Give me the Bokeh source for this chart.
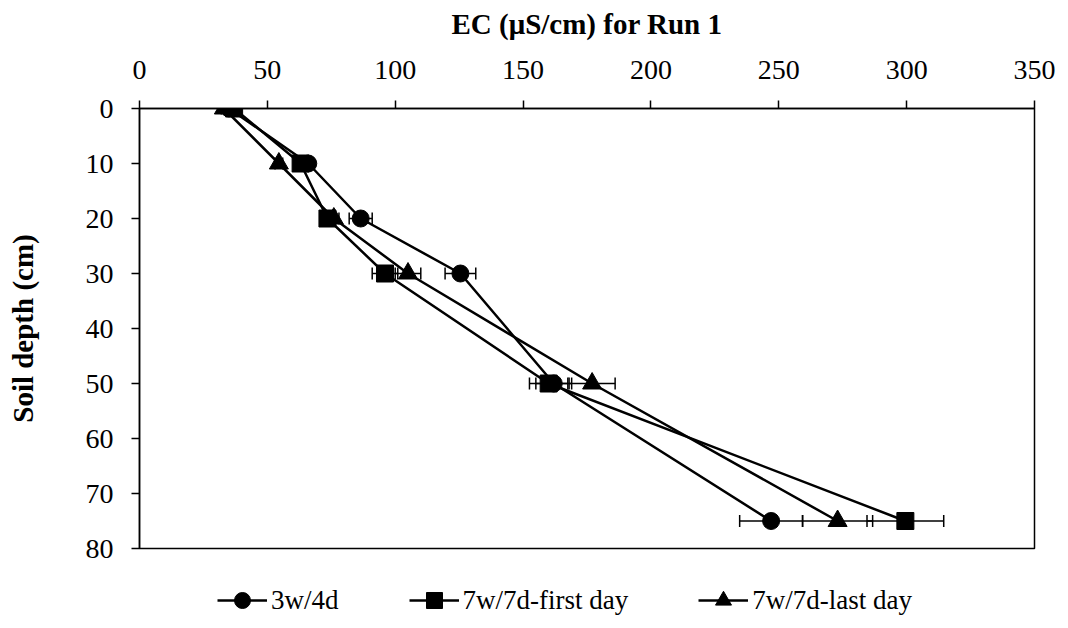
from bokeh.plotting import figure
from bokeh.layouts import column
from bokeh.models import Range1d, FixedTicker, Whisker, TeeHead, ColumnDataSource, Legend, LegendItem
from bokeh.embed import file_html
from bokeh.resources import INLINE

depths = [0, 10, 20, 30, 50, 75]
series_names = ["3w/4d", "7w/7d-first day", "7w/7d-last day"]
ec_3w4d = [35, 66, 86.5, 125.5, 162, 247]
err_3w4d = [1, 2, 4.5, 6, 7, 12.3]
ec_7w7d_first = [37, 63, 73.5, 96, 160, 299.5]
err_7w7d_first = [1, 2, 3, 5, 7.5, 15]
ec_7w7d_last = [33, 54.5, 76, 105, 177, 273]
err_7w7d_last = [1, 1.5, 2, 5, 9, 13.7]
x_ticks = [0, 50, 100, 150, 200, 250, 300, 350]
y_ticks = [0, 10, 20, 30, 40, 50, 60, 70, 80]

FONT = "Liberation Serif"

p = figure(width=1060, height=568, output_backend="svg", toolbar_location=None,
           x_range=Range1d(0, 350), y_range=Range1d(80, 0),
           x_axis_location="above", min_border_left=139, min_border_top=108,
           min_border_right=26, min_border_bottom=20)
p.grid.visible = False
p.outline_line_color = "black"
p.outline_line_width = 1.5
p.background_fill_color = "white"
p.border_fill_color = "white"

xa = p.xaxis[0]
xa.ticker = FixedTicker(ticks=x_ticks)
xa.axis_label = "EC (μS/cm) for Run 1"
ya = p.yaxis[0]
ya.ticker = FixedTicker(ticks=y_ticks)
ya.axis_label = "Soil depth (cm)"
for ax in (xa, ya):
    ax.minor_tick_line_color = None
    ax.major_tick_in = 0
    ax.major_tick_out = 8
    ax.major_tick_line_color = "black"
    ax.major_tick_line_width = 1.5
    ax.axis_line_color = "black"
    ax.axis_line_width = 1.5
    ax.major_label_text_font = FONT
    ax.major_label_text_font_size = "28px"
    ax.major_label_text_color = "black"
    ax.axis_label_text_font = FONT
    ax.axis_label_text_font_size = "29px"
    ax.axis_label_text_font_style = "bold"
    ax.axis_label_text_color = "black"
xa.major_label_standoff = 22
xa.axis_label_standoff = 18
ya.major_label_standoff = 18
ya.axis_label_standoff = 44

# legend-only strip below the chart
q = figure(width=1060, height=52, output_backend="svg", toolbar_location=None,
           x_range=Range1d(0, 1), y_range=Range1d(0, 1), min_border=0)
q.axis.visible = False
q.grid.visible = False
q.outline_line_color = None
q.background_fill_color = "white"
q.border_fill_color = "white"

markers = ["circle", "square", "triangle"]
vals = [ec_3w4d, ec_7w7d_first, ec_7w7d_last]
errs = [err_3w4d, err_7w7d_first, err_7w7d_last]
items = []
for name, mk, v, e in zip(series_names, markers, vals, errs):
    src = ColumnDataSource(dict(x=v, y=depths,
                                lo=[a - b for a, b in zip(v, e)],
                                hi=[a + b for a, b in zip(v, e)]))
    w = Whisker(source=src, base="y", lower="lo", upper="hi", dimension="width",
                line_color="black", line_width=1.5,
                lower_head=TeeHead(size=12, line_color="black", line_width=1.5),
                upper_head=TeeHead(size=12, line_color="black", line_width=1.5))
    p.add_layout(w)
    msize = 17 if mk != "triangle" else 19
    p.line("x", "y", source=src, line_color="black", line_width=2.5)
    p.scatter("x", "y", source=src, marker=mk, size=msize,
              fill_color="black", line_color="black")
    # same series in the (off-range) legend strip, only used for the legend glyphs
    ln = q.line("x", "y", source=src, line_color="black", line_width=2.5)
    sc = q.scatter("x", "y", source=src, marker=mk, size=msize,
                   fill_color="black", line_color="black")
    items.append(LegendItem(label=name, renderers=[ln, sc]))

legend = Legend(items=items, orientation="horizontal", location=(78, 0),
                label_text_font=FONT, label_text_font_size="27px", label_text_color="black",
                glyph_width=50, glyph_height=40, label_standoff=4, spacing=70,
                padding=0, margin=0, border_line_color=None, background_fill_alpha=0)
q.add_layout(legend, "center")

layout = column(p, q, spacing=0)
open("out.html", "w").write(file_html(layout, INLINE))
